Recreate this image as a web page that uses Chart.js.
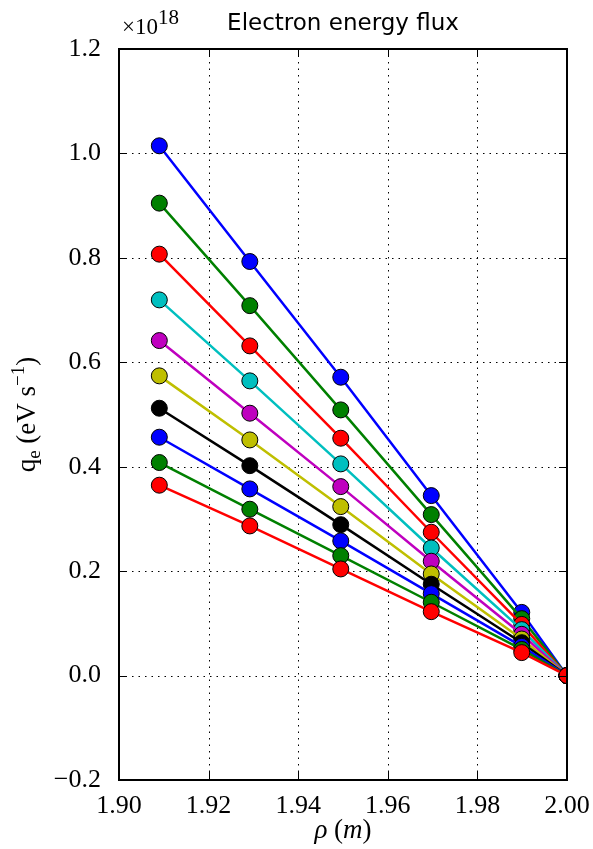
<!DOCTYPE html>
<html>
<head>
<meta charset="utf-8">
<script src="https://cdn.jsdelivr.net/npm/chart.js@4.4.1/dist/chart.umd.min.js"></script>
<style>
html,body{margin:0;padding:0;background:#fff;}
canvas{display:block;}
</style>
</head>
<body>
<canvas id="c" width="593" height="849"></canvas>
<script>
// rho positions (m)
const rho = [1.909, 1.9292, 1.9495, 1.9697, 1.9899, 2.0];
// electron energy flux, units of 1e18 eV/s (top curve first)
const q1  = [1.0146, 0.793, 0.5714, 0.3447, 0.121, 0];
const q2  = [0.9048, 0.7085, 0.5088, 0.3083, 0.109, 0];
const q3  = [0.8071, 0.6314, 0.4546, 0.2745, 0.098, 0];
const q4  = [0.7195, 0.5644, 0.4054, 0.2444, 0.088, 0];
const q5  = [0.6416, 0.5025, 0.3619, 0.2190, 0.079, 0];
const q6  = [0.5740, 0.4513, 0.3236, 0.1946, 0.070, 0];
const q7  = [0.5120, 0.4020, 0.2890, 0.1749, 0.063, 0];
const q8  = [0.4565, 0.3575, 0.2579, 0.1569, 0.056, 0];
const q9  = [0.4080, 0.3186, 0.2297, 0.1404, 0.050, 0];
const q10 = [0.3646, 0.2866, 0.2042, 0.1224, 0.044, 0];
const seriesColors = ['#0000ff','#008000','#ff0000','#00bfbf','#bf00bf','#bfbf00','#000000','#0000ff','#008000','#ff0000'];
const xTicks = [1.90, 1.92, 1.94, 1.96, 1.98, 2.00];
const xTickLabels = ['1.90','1.92','1.94','1.96','1.98','2.00'];
const yTicks = [-0.2, 0.0, 0.2, 0.4, 0.6, 0.8, 1.0, 1.2];
const yTickLabels = ['\u22120.2','0.0','0.2','0.4','0.6','0.8','1.0','1.2'];
const titleText = 'Electron energy flux';

const allSeries = [q1,q2,q3,q4,q5,q6,q7,q8,q9,q10];
// lower curves drawn on top -> put them first (dataset 0 drawn last)
const datasets = [];
for (let i = allSeries.length - 1; i >= 0; i--) {
  datasets.push({
    data: rho.map((x, j) => ({x: x, y: allSeries[i][j]})),
    borderColor: seriesColors[i],
    backgroundColor: seriesColors[i],
    pointBackgroundColor: seriesColors[i],
    pointBorderColor: '#000',
    pointBorderWidth: 1,
    pointRadius: 8,
    borderWidth: 2.5,
    tension: 0,
    showLine: true
  });
}

const serif = '"Liberation Serif", "DejaVu Serif", serif';

function drawRich(ctx, parts, x, y, align) {
  let total = 0;
  parts.forEach(p => { ctx.font = p.f; p.w = ctx.measureText(p.t).width; total += p.w; });
  let cx = align === 'center' ? x - total / 2 : x;
  parts.forEach(p => {
    ctx.font = p.f;
    ctx.fillText(p.t, cx, y + (p.dy || 0));
    cx += p.w;
  });
}

const decor = {
  id: 'decor',
  beforeDatasetsDraw(chart) {
    const {ctx, chartArea: a, scales: {x, y}} = chart;
    ctx.save();
    ctx.strokeStyle = '#000';
    ctx.lineWidth = 1;
    ctx.setLineDash([1.5, 5]);
    xTicks.forEach(v => {
      const px = Math.round(x.getPixelForValue(v)) + 0.5;
      if (px < a.left + 2 || px > a.right - 2) return;
      ctx.beginPath(); ctx.moveTo(px, a.top); ctx.lineTo(px, a.bottom); ctx.stroke();
    });
    yTicks.forEach(v => {
      const py = Math.round(y.getPixelForValue(v)) + 0.5;
      if (py < a.top + 2 || py > a.bottom - 2) return;
      ctx.beginPath(); ctx.moveTo(a.left, py); ctx.lineTo(a.right, py); ctx.stroke();
    });
    ctx.restore();
  },
  afterDatasetsDraw(chart) {
    const {ctx, chartArea: a, scales: {x, y}} = chart;
    ctx.save();
    ctx.setLineDash([]);
    ctx.strokeStyle = '#000';
    ctx.lineWidth = 1;
    const tl = 8;
    xTicks.forEach(v => {
      const px = Math.round(x.getPixelForValue(v)) + 0.5;
      ctx.beginPath();
      ctx.moveTo(px, a.bottom); ctx.lineTo(px, a.bottom - tl);
      ctx.moveTo(px, a.top); ctx.lineTo(px, a.top + tl);
      ctx.stroke();
    });
    yTicks.forEach(v => {
      const py = Math.round(y.getPixelForValue(v)) + 0.5;
      ctx.beginPath();
      ctx.moveTo(a.left, py); ctx.lineTo(a.left + tl, py);
      ctx.moveTo(a.right, py); ctx.lineTo(a.right - tl, py);
      ctx.stroke();
    });
    ctx.lineWidth = 2;
    ctx.strokeRect(a.left, a.top, a.right - a.left, a.bottom - a.top);
    ctx.restore();
  },
  afterDraw(chart) {
    const {ctx, chartArea: a} = chart;
    ctx.save();
    ctx.fillStyle = '#000';
    ctx.textBaseline = 'alphabetic';
    ctx.textAlign = 'center';
    ctx.font = '23px "DejaVu Sans", sans-serif';
    ctx.fillText(titleText, (a.left + a.right) / 2, 30);
    ctx.textAlign = 'left';
    drawRich(ctx, [
      {t: '\u00d710', f: '23px ' + serif},
      {t: '18', f: '21px ' + serif, dy: -10}
    ], a.left + 3, 34, 'left');
    drawRich(ctx, [
      {t: '\u03c1', f: 'italic 27px ' + serif},
      {t: ' (', f: '27px ' + serif},
      {t: 'm', f: 'italic 27px ' + serif},
      {t: ')', f: '27px ' + serif}
    ], (a.left + a.right) / 2, 838, 'center');
    ctx.translate(35, (a.top + a.bottom) / 2);
    ctx.rotate(-Math.PI / 2);
    drawRich(ctx, [
      {t: 'q', f: '27px ' + serif},
      {t: 'e', f: '19px ' + serif, dy: 5},
      {t: ' (eV s', f: '27px ' + serif},
      {t: '\u22121', f: '19px ' + serif, dy: -11},
      {t: ')', f: '27px ' + serif}
    ], 0, 0, 'center');
    ctx.restore();
  }
};

new Chart(document.getElementById('c'), {
  type: 'scatter',
  data: {datasets: datasets},
  options: {
    responsive: false,
    animation: false,
    devicePixelRatio: 1,
    layout: {padding: {left: 0, right: 26, top: 49, bottom: 0}},
    plugins: {legend: {display: false}, tooltip: {enabled: false}, title: {display: false}},
    scales: {
      x: {
        type: 'linear', min: 1.9, max: 2.0,
        afterBuildTicks: s => { s.ticks = xTicks.map(v => ({value: v})); },
        afterFit: s => { s.height = 69; s.paddingLeft = 0; s.paddingRight = 0; },
        grid: {display: false},
        border: {display: false},
        ticks: {
          color: '#000', padding: 3, maxRotation: 0,
          font: {family: serif, size: 26},
          callback: (v, i) => xTickLabels[i]
        }
      },
      y: {
        type: 'linear', min: -0.2, max: 1.2,
        afterBuildTicks: s => { s.ticks = yTicks.map(v => ({value: v})); },
        afterFit: s => { s.width = 119; s.paddingTop = 0; s.paddingBottom = 0; },
        grid: {display: false},
        border: {display: false},
        ticks: {
          color: '#000', padding: 10,
          font: {family: serif, size: 26},
          callback: (v, i) => yTickLabels[i]
        }
      }
    }
  },
  plugins: [decor]
});
</script>
</body>
</html>
